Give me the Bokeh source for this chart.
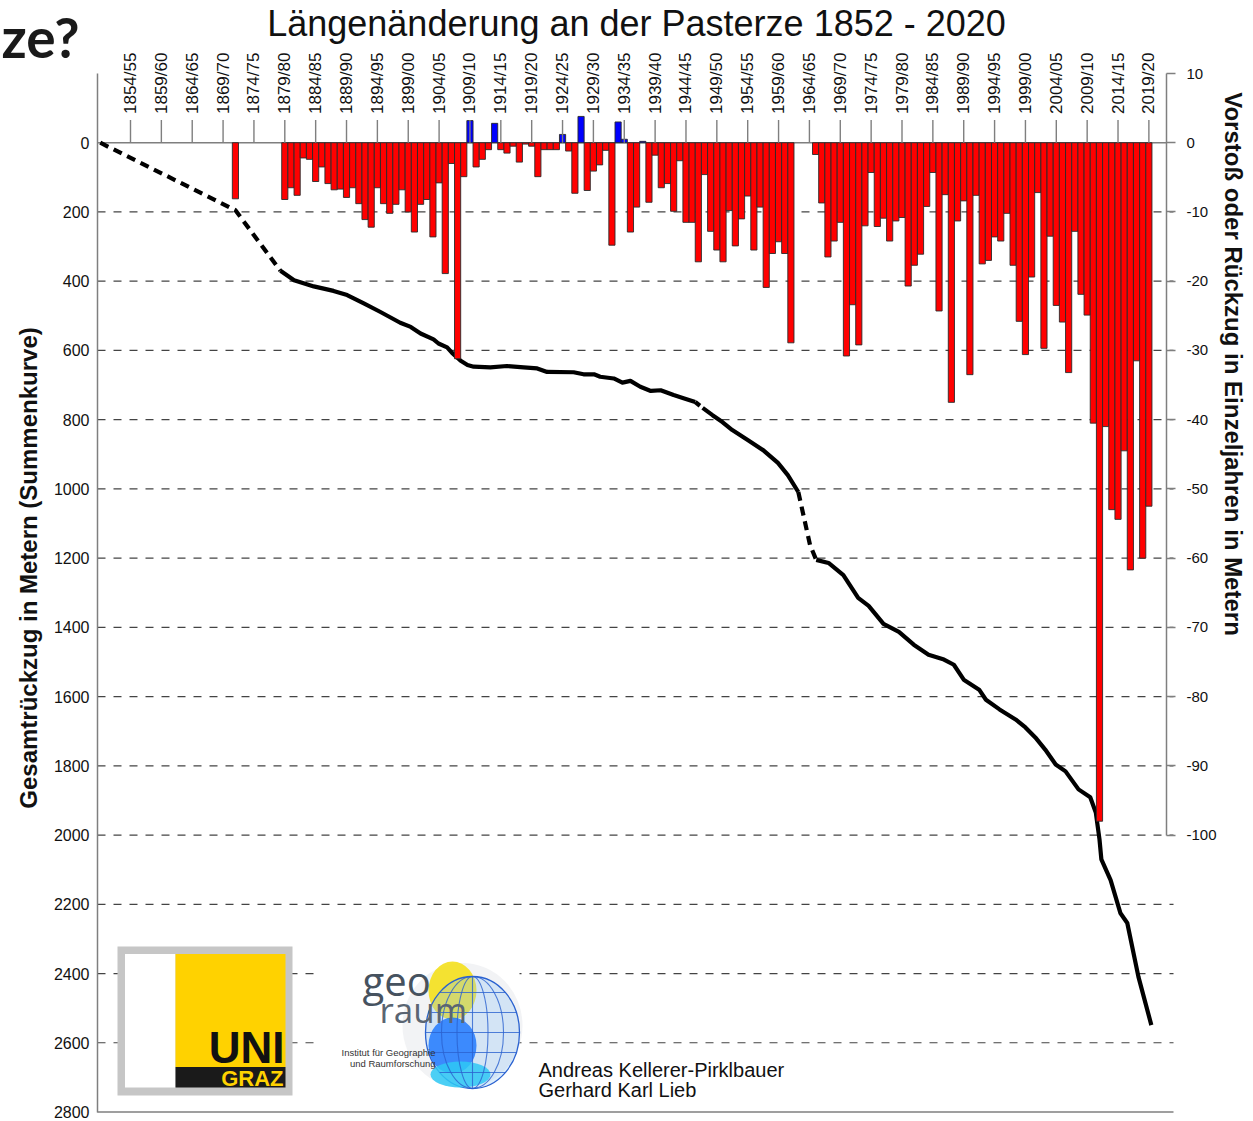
import math
from bokeh.plotting import figure
from bokeh.models import Range1d, LinearAxis, FixedTicker
from bokeh.core.properties import value
from bokeh.embed import file_html
from bokeh.resources import INLINE

# ---------------------------------------------------------------- data
title_text = "Längenänderung an der Pasterze 1852 - 2020"
left_title = "Gesamtrückzug in Metern (Summenkurve)"
right_title = "Vorstoß oder Rückzug in Einzeljahren in Metern"
slide_fragment = "ze?"
authors = ["Andreas Kellerer-Pirklbauer", "Gerhard Karl Lieb"]
logo_uni = ["UNI", "GRAZ"]
logo_geo = ["geo", "raum"]
logo_geo_small = ["Institut für Geographie", "und Raumforschung"]

tick_years = [1854, 1859, 1864, 1869, 1874, 1879, 1884, 1889, 1894, 1899,
              1904, 1909, 1914, 1919, 1924, 1929, 1934, 1939, 1944, 1949,
              1954, 1959, 1964, 1969, 1974, 1979, 1984, 1989, 1994, 1999,
              2004, 2009, 2014, 2019]
tick_labels = ["1854/55", "1859/60", "1864/65", "1869/70", "1874/75", "1879/80",
               "1884/85", "1889/90", "1894/95", "1899/00", "1904/05", "1909/10",
               "1914/15", "1919/20", "1924/25", "1929/30", "1934/35", "1939/40",
               "1944/45", "1949/50", "1954/55", "1959/60", "1964/65", "1969/70",
               "1974/75", "1979/80", "1984/85", "1989/90", "1994/95", "1999/00",
               "2004/05", "2009/10", "2014/15", "2019/20"]

left_ticks = [0, 200, 400, 600, 800, 1000, 1200, 1400, 1600, 1800, 2000,
              2200, 2400, 2600, 2800]
grid_ticks = [200, 400, 600, 800, 1000, 1200, 1400, 1600, 1800, 2000, 2200,
              2400, 2600]
right_ticks = [10, 0, -10, -20, -30, -40, -50, -60, -70, -80, -90, -100]
right_tick_text = ["10", "0", "-10", "-20", "-30", "-40", "-50", "-60", "-70",
                   "-80", "-90", "-100"]

# annual change (m), one bar per year "Y/Y+1"
bar_years = [1871] + list(range(1879, 1962)) + list(range(1965, 2020))
bar_values = (
    [-8.1]
    # 1879 - 1961
    + [-8.2, -6.5, -7.6, -2.2, -2.4, -5.6, -3.5, -5.9, -6.8, -6.7,
       -7.9, -6.5, -8.8, -11.1, -12.2, -6.5, -8.8, -10.2, -8.9, -6.8,
       -10.0, -12.9, -8.9, -8.2, -13.6, -5.8, -18.9, -3.0, -31.2, -4.9,
       3.2, -3.5, -2.4, -1.0, 2.8, -1.0, -1.5, -0.5, -2.8, -0.2,
       -0.5, -4.9, -1.0, -1.0, -1.0, 1.2, -1.2, -7.3, 3.8, -6.9,
       -4.1, -3.2, -1.1, -14.8, 3.0, 0.5, -12.9, -9.3, 0.2, -8.6,
       -1.8, -6.5, -5.9, -9.9, -2.6, -11.5, -11.5, -17.2, -4.6, -12.8,
       -15.5, -17.2, -9.8, -14.9, -11.0, -7.7, -15.5, -9.3, -20.9, -16.0,
       -14.3, -16.0, -28.9]
    # 1965 - 2019
    + [-1.7, -8.7, -16.5, -14.2, -11.5, -30.8, -23.4, -29.2, -12.0, -4.3,
       -12.1, -10.9, -14.2, -11.3, -10.8, -20.7, -17.7, -16.1, -9.2, -4.3,
       -24.3, -7.5, -37.5, -11.3, -8.4, -33.5, -7.6, -17.5, -17.0, -13.6,
       -14.2, -10.2, -17.7, -25.8, -30.6, -19.4, -7.2, -29.7, -13.5, -23.5,
       -25.9, -33.2, -12.8, -21.9, -24.9, -40.5, -98.0, -41.0, -53.0, -54.4,
       -44.5, -61.7, -31.5, -60.0, -52.5]
)
assert len(bar_years) == len(bar_values)

# cumulative retreat (m)
curve_early_years = [1849.1, 1871.0, 1878.3]
curve_early_vals = [0, 195, 370]
curve_a_years = [1878.3, 1880.5, 1883.7, 1886.9, 1889.1, 1891.8, 1894.5, 1897.7,
                 1899.4, 1901.0, 1903.1, 1903.9, 1905.3, 1906.1, 1907.5, 1908.6,
                 1909.6, 1912.3, 1915.0, 1917.7, 1919.9, 1921.5, 1925.8, 1927.4,
                 1929.1, 1930.1, 1932.3, 1933.7, 1935.0, 1936.6, 1938.3, 1939.9,
                 1942.0, 1943.6, 1945.5]
curve_a_vals = [370, 397, 415, 428, 440, 464, 489, 520, 532, 551, 568, 580, 591,
                607, 630, 642, 647, 649, 645, 649, 652, 662, 663, 669, 669, 676,
                681, 693, 688, 705, 717, 715, 729, 738, 749]
curve_gap1_years = [1945.5, 1946.7]
curve_gap1_vals = [749, 766]
curve_b_years = [1946.7, 1948.3, 1949.9, 1951.5, 1954.0, 1956.5, 1958.9, 1960.5, 1962.2]
curve_b_vals = [766, 787, 807, 830, 859, 888, 925, 960, 1009]
curve_gap2_years = [1962.2, 1964.1, 1965.1]
curve_gap2_vals = [1009, 1162, 1205]
curve_c_years = [1965.1, 1967.1, 1969.5, 1971.9, 1973.6, 1976.0, 1978.5, 1980.9,
                 1983.3, 1985.8, 1987.4, 1989.0, 1991.5, 1992.6, 1994.8, 1997.4,
                 1999.0, 2000.6, 2002.2, 2003.9, 2005.5, 2007.6, 2009.5, 2010.4,
                 2011.0, 2011.3, 2012.8, 2014.4, 2015.5, 2017.3, 2019.4]
curve_c_vals = [1205, 1214, 1249, 1315, 1338, 1390, 1413, 1450, 1479, 1493, 1508,
                1551, 1580, 1609, 1637, 1666, 1689, 1718, 1753, 1796, 1816, 1868,
                1891, 1935, 2013, 2070, 2130, 2226, 2254, 2409, 2549]

# ---------------------------------------------------------------- geometry
# The plotting frame covers the whole canvas; the two value axes are pinned
# (fixed_location) where the original draws them.
CW, CH = 1250, 1121
AX_L, AX_R, GRID_R = 97, 1166, 1173
PX_PER_YEAR = 6.172
X0 = 1854 - 130 / PX_PER_YEAR
X1 = X0 + CW / PX_PER_YEAR
S = (1111.5 - 73) / 3000.0   # px per metre (left axis): -200 @73, 2800 @1111.5
Y_TOP = -200 - 73 / S
Y_BOT = -200 + (CH - 73) / S


def px_x(sx):
    return X0 + sx / PX_PER_YEAR


def px_y(sy):
    return -200 + (sy - 73) / S


def dx(w):
    return w / PX_PER_YEAR


def dy(h):
    return h / S


p = figure(frame_width=CW, frame_height=CH,
           x_range=Range1d(X0, X1), y_range=Range1d(Y_BOT, Y_TOP),
           x_axis_location=None, y_axis_location="left",
           output_backend="svg", toolbar_location=None,
           min_border_left=0, min_border_right=0,
           min_border_top=0, min_border_bottom=0,
           background_fill_color="white", border_fill_color="white",
           outline_line_color=None)
p.extra_y_ranges = {"bars": Range1d(start=Y_BOT / -20.0, end=Y_TOP / -20.0)}
p.xgrid.visible = False
p.ygrid.visible = False

FONT = "Liberation Sans"
GRAY = "#7f7f7f"
INK = "#111111"

# left axis (cumulative metres)
yax = p.yaxis[0]
yax.fixed_location = px_x(AX_L)
yax.ticker = FixedTicker(ticks=left_ticks)
yax.bounds = (-200, 2800)
yax.major_tick_out = 0
yax.major_tick_in = 0
yax.minor_tick_out = 0
yax.minor_tick_in = 0
yax.axis_line_color = GRAY
yax.axis_line_width = 1.5
yax.major_label_text_font = FONT
yax.major_label_text_font_size = "16px"
yax.major_label_text_color = INK
yax.major_label_standoff = 8

# right axis (annual change)
rax = LinearAxis(y_range_name="bars", fixed_location=px_x(AX_R),
                 ticker=FixedTicker(ticks=right_ticks),
                 major_label_overrides={float(v): t for v, t in zip(right_ticks, right_tick_text)},
                 bounds=(-100, 10), major_tick_out=9, major_tick_in=0,
                 minor_tick_out=0, minor_tick_in=0,
                 axis_line_color=GRAY, axis_line_width=1.5,
                 major_tick_line_color=GRAY, major_tick_line_width=1.5,
                 major_label_text_font=FONT, major_label_text_font_size="15px",
                 major_label_text_color=INK, major_label_standoff=11)
p.add_layout(rax, "right")

# dashed horizontal grid, zero line, bottom line
n = len(grid_ticks)
p.segment(x0=[px_x(AX_L)] * n, y0=grid_ticks, x1=[px_x(GRID_R)] * n, y1=grid_ticks,
          line_color="#444444", line_width=1.2, line_dash="8 8")
p.segment(x0=[px_x(AX_L)], y0=[0], x1=[px_x(AX_R)], y1=[0],
          line_color=GRAY, line_width=1.6)
p.segment(x0=[px_x(AX_L)], y0=[left_ticks[-1]], x1=[px_x(GRID_R)], y1=[left_ticks[-1]],
          line_color=GRAY, line_width=1.6)

# ---------------------------------------------------------------- logos (decoration)
# Uni Graz
p.quad(left=[px_x(117)], right=[px_x(292)], top=[px_y(946)], bottom=[px_y(1095)],
       fill_color="#C6C6C6", line_color=None)
p.quad(left=[px_x(124.5)], right=[px_x(175)], top=[px_y(953.5)], bottom=[px_y(1087)],
       fill_color="white", line_color=None)
p.quad(left=[px_x(175)], right=[px_x(285)], top=[px_y(953.5)], bottom=[px_y(1066.5)],
       fill_color="#FFD200", line_color=None)
p.quad(left=[px_x(175)], right=[px_x(285)], top=[px_y(1066.5)], bottom=[px_y(1087)],
       fill_color="#1A1A1A", line_color=None)
p.text(x=[px_x(284)], y=[px_y(1046.5)], text=[logo_uni[0]], text_align="right",
       text_baseline="middle", text_font=value(FONT), text_font_style="bold",
       text_font_size="44px", text_color=INK)
p.text(x=[px_x(283)], y=[px_y(1077.5)], text=[logo_uni[1]], text_align="right",
       text_baseline="middle", text_font=value(FONT), text_font_style="bold",
       text_font_size="22px", text_color="#FFD200")

# geo raum
p.quad(left=[px_x(315)], right=[px_x(519)], top=[px_y(953)], bottom=[px_y(1100)],
       fill_color="white", line_color=None)
p.ellipse(x=[px_x(462)], y=[px_y(1025)], width=dx(120), height=dy(125),
          fill_color="#D9DDE2", fill_alpha=0.35, line_color=None)
p.ellipse(x=[px_x(452)], y=[px_y(990)], width=dx(48), height=dy(58),
          fill_color="#F4E01C", fill_alpha=0.9, line_color=None)
gcx, gcy, grx, gry = 472, 1032, 47, 56
p.ellipse(x=[px_x(gcx)], y=[px_y(gcy)], width=dx(2 * grx), height=dy(2 * gry),
          fill_color="#8CC4F5", fill_alpha=0.3, line_color="#2A62D0", line_width=1.3)
p.ellipse(x=[px_x(452)], y=[px_y(1045)], width=dx(48), height=dy(56),
          fill_color="#0A6CFF", fill_alpha=0.75, line_color=None)
p.ellipse(x=[px_x(460)], y=[px_y(1074)], width=dx(60), height=dy(26),
          fill_color="#2EC8F5", fill_alpha=0.85, line_color=None)
for f in (0.66, 0.33):
    p.ellipse(x=[px_x(gcx)], y=[px_y(gcy)], width=dx(2 * grx * f), height=dy(2 * gry),
              fill_color=None, line_color="#2A62D0", line_width=1.1, line_alpha=0.8)
p.segment(x0=[px_x(gcx)], y0=[px_y(gcy - gry)], x1=[px_x(gcx)], y1=[px_y(gcy + gry)],
          line_color="#2A62D0", line_width=1.1, line_alpha=0.8)
for off in (-40, -20, 0, 20, 40):
    half = grx * math.sqrt(max(0.0, 1 - (off / gry) ** 2))
    p.segment(x0=[px_x(gcx - half)], y0=[px_y(gcy + off)],
              x1=[px_x(gcx + half)], y1=[px_y(gcy + off)],
              line_color="#2A62D0", line_width=1.1, line_alpha=0.8)
p.text(x=[px_x(362)], y=[px_y(980)], text=[logo_geo[0]], text_align="left",
       text_baseline="middle", text_font=value("Open Sans"),
       text_font_size="40px", text_color="#46525F")
p.text(x=[px_x(379)], y=[px_y(1009)], text=[logo_geo[1]], text_align="left",
       text_baseline="middle", text_font=value("Open Sans"),
       text_font_size="35px", text_color="#5A6572")
p.text(x=[px_x(435), px_x(435)], y=[px_y(1052), px_y(1063)], text=logo_geo_small,
       text_align="right", text_baseline="middle", text_font=value(FONT),
       text_font_size="9.5px", text_color="#333333")

# authors
p.text(x=[px_x(538), px_x(538)], y=[px_y(1069), px_y(1089)], text=authors,
       text_align="left", text_baseline="middle", text_font=value(FONT),
       text_font_size="20px", text_color=INK)

# ---------------------------------------------------------------- data marks
CURVE_W = 4.2
p.line(curve_early_years, curve_early_vals, line_color="black", line_width=CURVE_W,
       line_dash="9 6")
p.line(curve_gap1_years, curve_gap1_vals, line_color="black", line_width=CURVE_W,
       line_dash="6 5")
p.line(curve_gap2_years, curve_gap2_vals, line_color="black", line_width=CURVE_W,
       line_dash="9 6")
for xs, ys in ((curve_a_years, curve_a_vals), (curve_b_years, curve_b_vals),
               (curve_c_years, curve_c_vals)):
    p.line(xs, ys, line_color="black", line_width=CURVE_W, line_join="round")

bar_colors = ["#0000FF" if v > 0 else "#FF0000" for v in bar_values]
p.vbar(x=bar_years, width=1, top=bar_values, bottom=0, y_range_name="bars",
       fill_color=bar_colors, line_color="#2a2a2a", line_width=0.9)

# category ticks and labels on the zero line
p.segment(x0=tick_years, y0=[0] * len(tick_years), x1=tick_years,
          y1=[3.3] * len(tick_years), y_range_name="bars",
          line_color=GRAY, line_width=1.4)
p.text(x=tick_years, y=[4.15] * len(tick_years), text=tick_labels,
       y_range_name="bars", angle=math.pi / 2, text_align="left",
       text_baseline="middle", text_font=value(FONT), text_font_size="17px",
       text_color=INK)

# titles
p.text(x=[px_x(636)], y=[px_y(22.5)], text=[title_text], text_align="center",
       text_baseline="middle", text_font=value(FONT), text_font_size="36px",
       text_color=INK)
p.text(x=[px_x(28)], y=[px_y(567.5)], text=[left_title], angle=math.pi / 2,
       text_align="center", text_baseline="middle", text_font=value(FONT),
       text_font_style="bold", text_font_size="24px", text_color=INK)
p.text(x=[px_x(1233)], y=[px_y(363.5)], text=[right_title], angle=-math.pi / 2,
       text_align="center", text_baseline="middle", text_font=value(FONT),
       text_font_style="bold", text_font_size="24px", text_color=INK)
p.text(x=[px_x(1)], y=[px_y(36)], text=[slide_fragment], text_align="left",
       text_baseline="middle", text_font=value("Lato"),
       text_font_style="bold", text_font_size="55px", text_color="#1a1a1a")

open("out.html", "w").write(file_html(p, INLINE))
